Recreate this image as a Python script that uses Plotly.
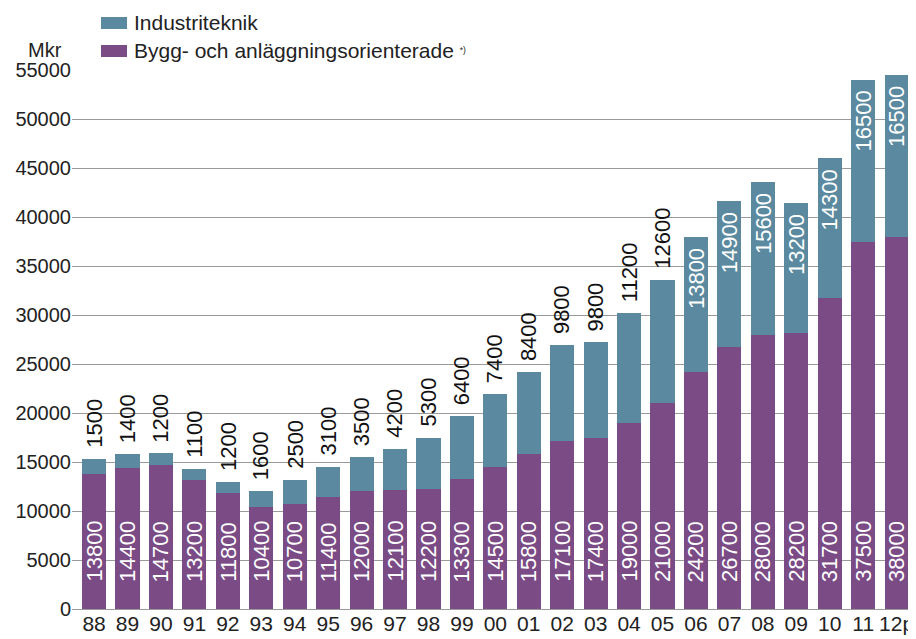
import plotly.graph_objects as go

years = ["88", "89", "90", "91", "92", "93", "94", "95", "96", "97", "98", "99", "00",
         "01", "02", "03", "04", "05", "06", "07", "08", "09", "10", "11", "12p"]
bygg = [13800, 14400, 14700, 13200, 11800, 10400, 10700, 11400, 12000, 12100, 12200, 13300,
        14500, 15800, 17100, 17400, 19000, 21000, 24200, 26700, 28000, 28200, 31700, 37500, 38000]
industri = [1500, 1400, 1200, 1100, 1200, 1600, 2500, 3100, 3500, 4200, 5300, 6400, 7400,
            8400, 9800, 9800, 11200, 12600, 13800, 14900, 15600, 13200, 14300, 16500, 16500]
# number of leading bars whose Industriteknik label sits above the bar
n_outside = 18
y_ticks = [0, 5000, 10000, 15000, 20000, 25000, 30000, 35000, 40000, 45000, 50000, 55000]

PURPLE = "#7a4b85"
TEAL = "#5b8aa0"
FONT = "Liberation Sans, Arial, Helvetica, sans-serif"

OFF = 8  # default page body margin
W, H = 916 - OFF, 639 - OFF
ML, MR, MT, MB = 72 - OFF, 0, 70 - OFF, 30
PW, PH = W - ML - MR, H - MT - MB

def px(xs):
    return (xs - OFF - ML) / PW

def py(ys):
    return (H - MB - (ys - OFF)) / PH

fig = go.Figure()
fig.add_trace(go.Bar(x=years, y=bygg, name="Bygg- och anläggningsorienterade",
                     marker=dict(color=PURPLE, line=dict(width=0)), showlegend=False))
fig.add_trace(go.Bar(x=years, y=industri, name="Industriteknik",
                     marker=dict(color=TEAL, line=dict(width=0)), showlegend=False))

annotations = []
for i, (b, ind) in enumerate(zip(bygg, industri)):
    annotations.append(dict(x=i, y=0, xref="x", yref="y", text=str(b), textangle=-90,
                            showarrow=False, xanchor="center", yanchor="bottom", yshift=25,
                            font=dict(family=FONT, size=22, color="white")))
    total = b + ind
    if i < n_outside:
        annotations.append(dict(x=i, y=total, xref="x", yref="y", text=str(ind), textangle=-90,
                                showarrow=False, xanchor="center", yanchor="bottom", yshift=9,
                                font=dict(family=FONT, size=22, color="#111111")))
    else:
        annotations.append(dict(x=i, y=total, xref="x", yref="y", text=str(ind), textangle=-90,
                                showarrow=False, xanchor="center", yanchor="top", yshift=-9,
                                font=dict(family=FONT, size=22, color="white")))

# axis unit label
annotations.append(dict(x=px(45), y=py(50), xref="paper", yref="paper", text="Mkr",
                        showarrow=False, xanchor="center", yanchor="middle",
                        font=dict(family=FONT, size=20, color="#222222")))
# legend
annotations.append(dict(x=px(132), y=py(23), xref="paper", yref="paper", text="Industriteknik",
                        showarrow=False, xanchor="left", yanchor="middle",
                        font=dict(family=FONT, size=21, color="#222222")))
annotations.append(dict(x=px(132), y=py(51), xref="paper", yref="paper",
                        text="Bygg- och anläggningsorienterade <span style='font-size:12px'><sup>*)</sup></span>",
                        showarrow=False, xanchor="left", yanchor="middle",
                        font=dict(family=FONT, size=21, color="#222222")))
shapes = [
    dict(type="rect", xref="paper", yref="paper", x0=px(101), x1=px(127), y0=py(29), y1=py(17),
         fillcolor=TEAL, line=dict(width=0)),
    dict(type="rect", xref="paper", yref="paper", x0=px(101), x1=px(127), y0=py(57), y1=py(45),
         fillcolor=PURPLE, line=dict(width=0)),
]

fig.update_layout(
    width=W, height=H,
    margin=dict(l=ML, r=MR, t=MT, b=MB, pad=0),
    barmode="stack", bargap=0.28,
    plot_bgcolor="white", paper_bgcolor="white",
    font=dict(family=FONT, size=20, color="#222222"),
    annotations=annotations, shapes=shapes,
    showlegend=False,
    xaxis=dict(type="category", range=[-0.66, 24.58], showgrid=False, zeroline=False,
               showline=False, ticks="", tickfont=dict(size=21), automargin=False),
    yaxis=dict(range=[0, 55000], tickvals=y_ticks, ticktext=[str(v) for v in y_ticks],
               showgrid=True, gridcolor="#9a9a9a", gridwidth=1, zeroline=True,
               zerolinecolor="#9a9a9a", zerolinewidth=1, showline=False, ticks="",
               tickfont=dict(size=20), automargin=False),
)

fig.write_html("out.html")
